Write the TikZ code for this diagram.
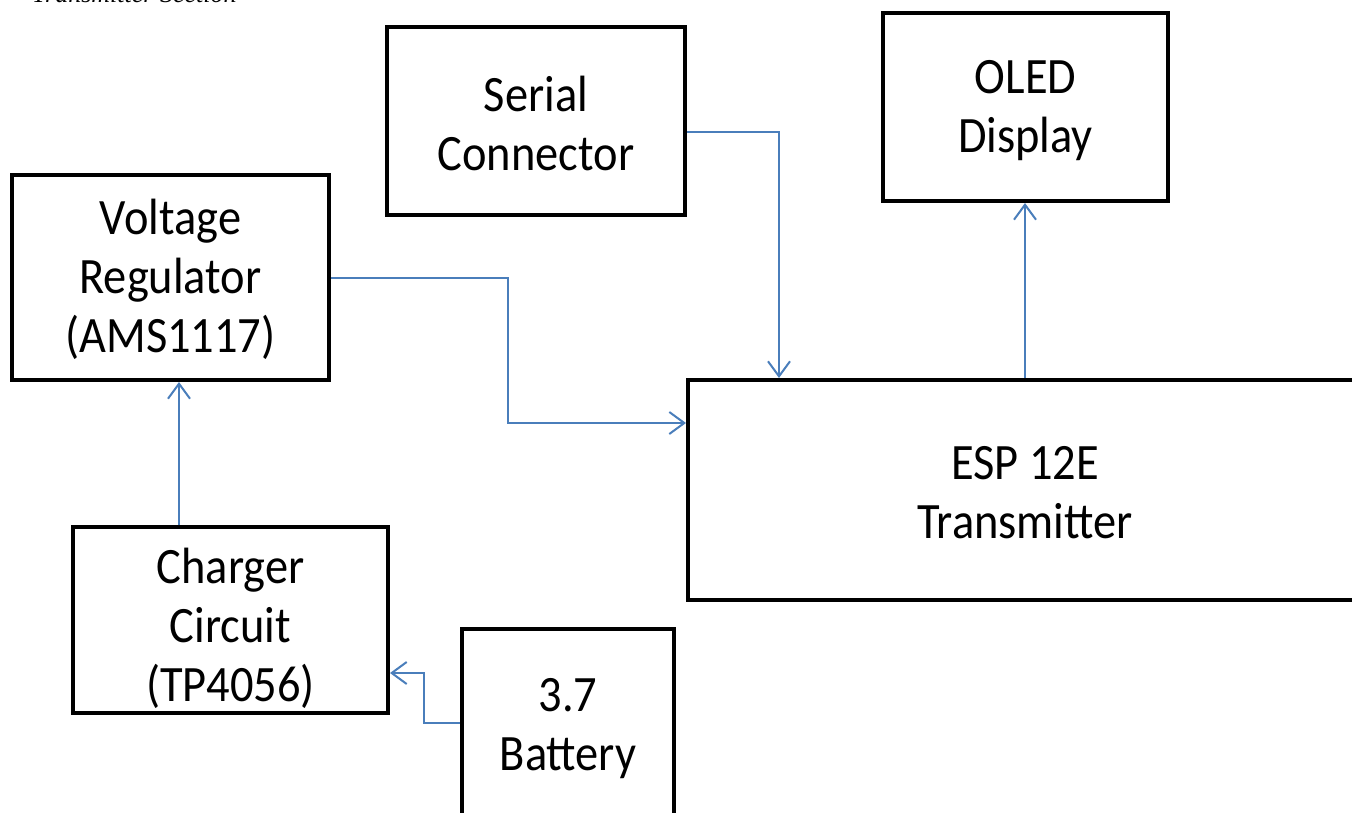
\documentclass[tikz,border=0pt]{standalone}
\usepackage{fontspec}
\setmainfont{Carlito}[FakeStretch=0.91]
\newfontfamily\capfont{Liberation Serif}
\usetikzlibrary{arrows.meta}
\definecolor{linkblue}{RGB}{74,126,187}
\tikzset{
  blk/.style={draw=black, line width=4pt, fill=white, inner sep=0pt},
  txt/.style={align=center, inner sep=0pt, font=\fontsize{51}{59}\selectfont},
  conn/.style={draw=linkblue, line width=2pt,
    -{Straight Barb[length=15pt,width=22pt,line width=2pt]}}
}
\begin{document}
\begin{tikzpicture}[x=1pt,y=-1pt]
\useasboundingbox (0,0) rectangle (1352,813);
\node[anchor=base west, inner sep=0pt, font=\capfont\itshape\fontsize{26}{30}\selectfont] (title) at (32,3) {Transmitter Section};
% boxes
\node[blk, minimum width=298pt, minimum height=188pt] (ser) at (536,121) {};
\node[blk, minimum width=285pt, minimum height=188pt] (oled) at (1025.5,107) {};
\node[blk, minimum width=317pt, minimum height=205pt] (volt) at (170.5,277.5) {};
\node[blk, minimum width=674pt, minimum height=220pt] (esp) at (1025,490) {};
\node[blk, minimum width=315pt, minimum height=186pt] (chg) at (230.5,620) {};
\node[blk, minimum width=212pt, minimum height=187pt] (bat) at (568,722.5) {};
% texts
\node[txt, yshift=-2pt] (sert) at (ser.center) {Serial\\Connector};
\node[txt, yshift=-4pt] (oledt) at (oled.center) {OLED\\Display};
\node[txt, yshift=-2pt] (voltt) at (volt.center) {Voltage\\Regulator\\(AMS1117)};
\node[txt, yshift=-3pt] (espt) at (esp.center) {ESP 12E\\Transmitter};
\node[txt, yshift=-8pt] (chgt) at (chg.center) {Charger\\Circuit\\(TP4056)};
\node[txt, yshift=-6pt] (batt) at (bat.center) {3.7\\Battery};
% connectors
\coordinate (vbend) at (508,423);
\draw[conn] ([yshift=-11pt]ser.east) -| ([xshift=93pt]esp.north west);
\draw[conn] (volt.east) -| (vbend) -- (vbend -| esp.west);
\draw[conn] (esp.north) -- (esp.north |- oled.south);
\draw[conn] ([xshift=-51.5pt]chg.north) -- ([xshift=-51.5pt]chg.north |- volt.south);
\draw[conn] (bat.west) -- ++(-36,0) |- ([yshift=-53pt]chg.east);
\end{tikzpicture}
\end{document}
